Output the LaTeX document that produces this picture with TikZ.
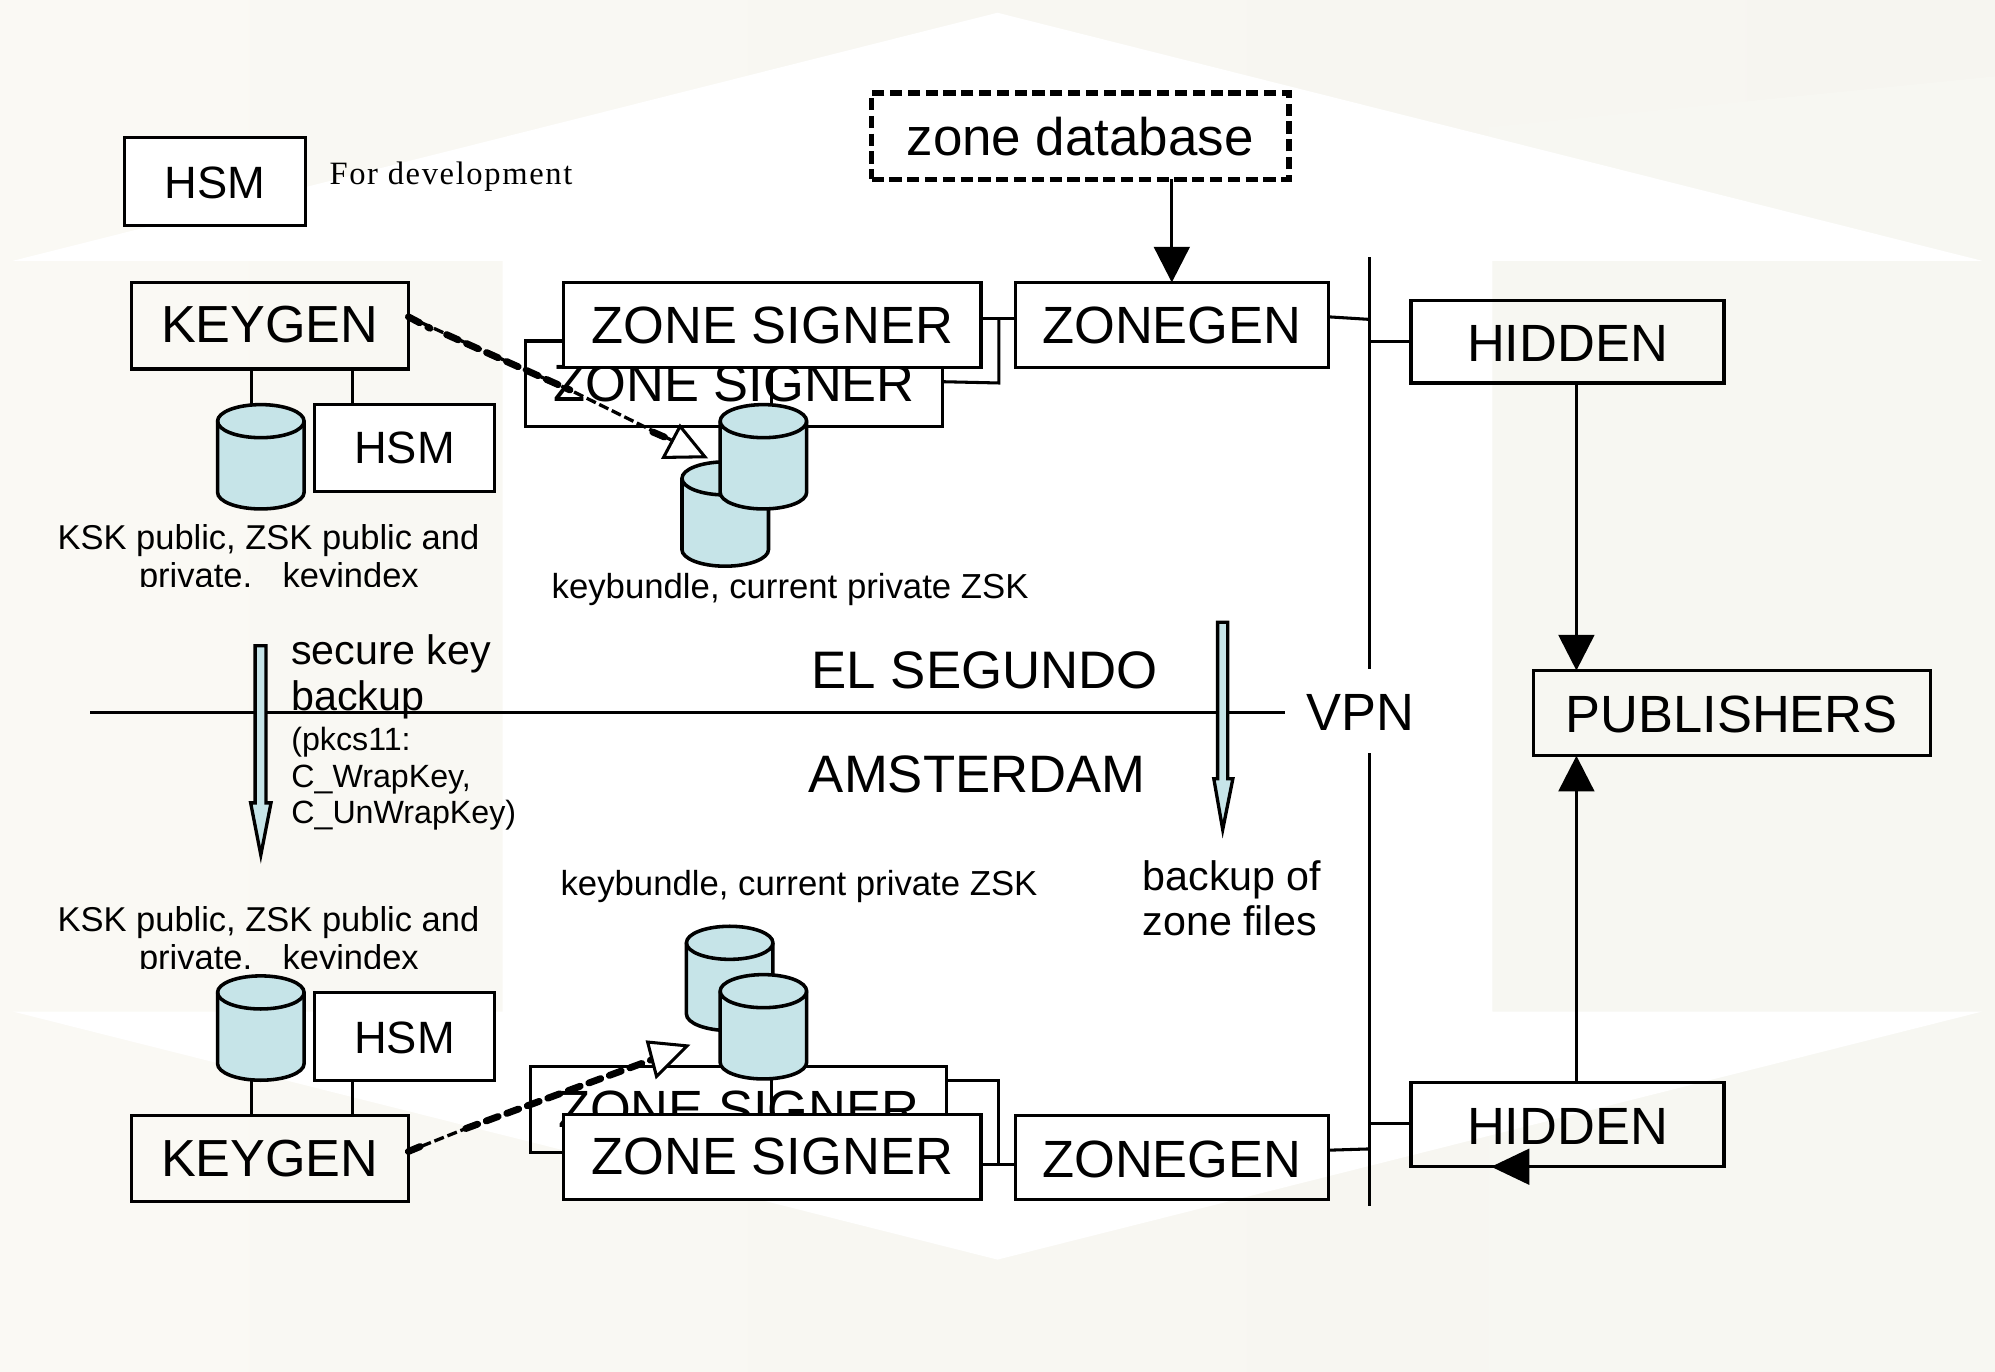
\documentclass[tikz,border=0pt]{standalone}
\usepackage{fontspec}
\setmainfont{Liberation Sans}
\newfontfamily\devfont[LetterSpace=5]{Liberation Serif}
\usetikzlibrary{arrows.meta}
\definecolor{bgtone}{HTML}{F8F8F3}
\definecolor{bgleft}{HTML}{FAF9F4}
\definecolor{bgright}{HTML}{F6F5F0}
\definecolor{cylblue}{HTML}{C6E4E8}
\newcommand{\nudge}[2]{\raisebox{#1}[\height][0pt]{#2}}
\tikzset{
  x=0.5pt,y=-0.5pt,
  lw/.style={line width=1.2pt},
  boxn/.style={draw=black,lw,rectangle,inner sep=0pt,outer sep=0pt,align=center},
  big/.style={font=\fontsize{20.6}{24}\selectfont},
  kgen/.style={font=\fontsize{20.5}{24}\selectfont},
  mid/.style={font=\fontsize{17.8}{20}\selectfont},
  lab/.style={inner sep=0pt,outer sep=0pt,align=center,font=\fontsize{13.65}{15}\selectfont},
  labtwo/.style={inner sep=0pt,outer sep=0pt,align=left,font=\fontsize{13.55}{15}\selectfont},
  labl/.style={inner sep=0pt,outer sep=0pt,align=left,anchor=west},
  cylline/.style={draw=black,line width=1.4pt,fill=cylblue},
  conn/.style={draw=black,lw},
  sol/.style={-{Triangle[length=14pt,width=14pt]},draw=black,lw},
  dashthin/.style={line width=1.3pt,dash pattern=on 4pt off 1.5pt},
  dashthick/.style={line width=2.7pt,line cap=round,dash pattern=on 5pt off 3.6pt},
  openhead/.style={draw=black,fill=white,line width=1.2pt,line join=miter},
  blockarrow/.style={draw=black,fill=cylblue,line width=1.3pt,line join=miter},
}
% a database drum: name, centre x, top y
\newcommand{\drumat}[3]{%
  \begin{scope}[shift={(#2,#3)}]
    \coordinate (#1-top) at (0,0);
    \coordinate (#1-bot) at (0,82);
    \path[cylline] (-34,13) arc[start angle=180,end angle=0,x radius=17pt,y radius=6.5pt]
      -- (34,69) arc[start angle=0,end angle=-180,x radius=17pt,y radius=6.5pt] -- cycle;
    \draw[draw=black,line width=1.4pt] (-34,13) arc[start angle=180,end angle=360,x radius=17pt,y radius=6.5pt];
  \end{scope}}
\begin{document}
\begin{tikzpicture}
\useasboundingbox (0,0) rectangle (1568,1078);
% background
\shade[left color=bgleft,right color=bgright] (0,0) rectangle (1568,1078);
\fill[bgtone!70!bgright] (1170,100) -- (1568,60) -- (1568,1078) -- (1170,1078) -- cycle;
\fill[white] (784,10) -- (1558,205) -- (1173,205) -- (1173,795) -- (1558,795) -- (784,990)
  -- (10,795) -- (395,795) -- (395,205) -- (10,205) -- cycle;

% top legend
\node[boxn,fill=white,mid,minimum width=71pt,minimum height=34.5pt] (hsmdev) at (169,142.5) {\nudge{-.4pt}{HSM}};
\node[labl,font=\devfont\fontsize{12.8}{15}\selectfont] (fordev) at (259,138.5) {For development};

% zone database
\node[boxn,line width=2.2pt,dash pattern=on 4.8pt off 2.2pt,fill=white,minimum width=164pt,minimum height=34pt,font=\fontsize{20.8}{24}\selectfont] (zonedb) at (849,107) {zone database};

% horizontal divider and VPN bus
\coordinate (divl) at (71,560);
\coordinate (divr) at (1010,560);
\draw[conn] (divl) -- (divr);
\node[inner sep=0pt,big] (vpn) at (1069,560) {VPN};
\coordinate (bustop) at (1076,202);
\coordinate (busa) at (1076,526);
\coordinate (busb) at (1076,592);
\coordinate (busbot) at (1076,948);
\draw[conn] (bustop) -- (busa);
\draw[conn] (busb) -- (busbot);

% upper row
\node[boxn,kgen,minimum width=109pt,minimum height=34pt] (keygenT) at (212,256) {\nudge{.4pt}{KEYGEN}};
\node[boxn,big,fill=white,minimum width=164pt,minimum height=33.5pt] (signerBT) at (577,301.5) {ZONE SIGNER};
\node[boxn,big,fill=white,minimum width=164pt,minimum height=33.5pt] (signerFT) at (607,255.5) {ZONE SIGNER};
\node[boxn,big,minimum width=123pt,minimum height=33.5pt] (zonegenT) at (921,255.5) {ZONEGEN};
\node[boxn,big,minimum width=123pt,minimum height=32.5pt] (hiddenT) at (1232,268.5) {\nudge{-.8pt}{HIDDEN}};
\node[boxn,mid,fill=white,minimum width=71pt,minimum height=34pt] (hsmT) at (318,352) {HSM};
\node[boxn,big,minimum width=156pt,minimum height=33.5pt] (publishers) at (1361,560.5) {\nudge{-.4pt}{PUBLISHERS}};

% lower row
\node[boxn,big,minimum width=123pt,minimum height=33pt] (hiddenB) at (1232,884) {\nudge{-.6pt}{HIDDEN}};
\node[boxn,big,minimum width=123pt,minimum height=33pt] (zonegenB) at (921,910) {\nudge{-.4pt}{ZONEGEN}};
\node[boxn,big,minimum width=163.5pt,minimum height=34pt] (signerBB) at (580.5,872) {ZONE SIGNER};
\node[boxn,big,fill=white,minimum width=164pt,minimum height=33.5pt] (signerFB) at (607,909.5) {\nudge{.4pt}{ZONE SIGNER}};
\node[boxn,kgen,minimum width=109pt,minimum height=33.5pt] (keygenB) at (212,910.5) {KEYGEN};
\node[boxn,mid,fill=white,minimum width=71pt,minimum height=34.5pt] (hsmB) at (318,814.5) {\nudge{-.4pt}{HSM}};

% drums
\drumat{cylKT}{205}{318}
\drumat{cylZTb}{570}{363}
\drumat{cylZTf}{600}{318}
\drumat{cylKB}{205}{767}
\drumat{cylZBb}{573.5}{728}
\drumat{cylZBf}{600}{766}

% connectors
\draw[conn] ([xshift=-7pt]keygenT.south) -- ([xshift=-7pt]keygenT.south |- cylKT-top);
\draw[conn] ([xshift=32.5pt]keygenT.south) -- ([xshift=32.5pt]keygenT.south |- hsmT.north);
\draw[conn] ([xshift=-0.5pt]signerFT.south) -- ([xshift=-0.5pt]signerFT.south |- cylZTf-top);
\draw[conn] ([xshift=-7pt]keygenB.north) -- ([xshift=-7pt]keygenB.north |- cylKB-bot);
\draw[conn] ([xshift=32.5pt]keygenB.north) -- ([xshift=32.5pt]keygenB.north |- hsmB.south);
\draw[conn] ([xshift=-0.5pt]signerFB.north) -- ([xshift=-0.5pt]signerFB.north |- cylZBf-bot);

\coordinate (jT) at (785,250);
\draw[conn] (signerFT.east |- jT) -- (zonegenT.west |- jT);
\draw[conn] (signerBT.east |- 0,300) -- (785,301) -- (jT);
\coordinate (jB) at (785,915);
\draw[conn] (signerFB.east |- jB) -- (zonegenB.west |- jB);
\draw[conn] (signerBB.east |- 0,849) -- (785,849) -- (jB);
\draw[conn] (zonegenT.east |- 0,249) -- (busa |- 0,251);
\draw[conn] (busa |- hiddenT.west) -- (hiddenT.west);
\draw[conn] (zonegenB.east |- 0,904) -- (busa |- 0,903);
\draw[conn] (busa |- 0,883) -- (hiddenB.west |- 0,883);

\draw[sol] (zonedb.south -| zonegenT.north) -- (zonegenT.north);
\coordinate (colp) at (1239,560);
\draw[sol] (hiddenT.south -| colp) -- (publishers.north -| colp);
\draw[sol] (hiddenB.north -| colp) -- (publishers.south -| colp);
\coordinate (hidtip) at (1172,917);
\draw[-{Triangle[length=15pt,width=14pt]},draw=black,lw] (hiddenB.south east) -- (hidtip);

% dashed key transfer arrows
\coordinate (dTs) at (321,249);
\coordinate (dTa) at (338,258);
\coordinate (dTb) at (351,263);
\coordinate (dTm) at (448,306.5);
\coordinate (dTc) at (513,339.5);
\coordinate (dTe) at (528,346);
\draw[dashthin] (dTs) -- (dTm) -- (dTe);
\draw[dashthick] (dTs) -- (dTa);
\draw[dashthick] (dTb) -- (dTm);
\draw[dashthick] (dTc) -- (dTe);
\draw[openhead] (534.5,335) -- (521.5,359.5) -- (554,359) -- cycle;
\coordinate (dBs) at (321,905);
\coordinate (dBa) at (333,900);
\coordinate (dBm) at (366,887);
\coordinate (dBe) at (512,833);
\draw[dashthin] (dBs) -- (dBm);
\draw[dashthick] (dBs) -- (dBa);
\draw[dashthick] (dBm) -- (dBe);
\draw[openhead] (509,819) -- (540,822) -- (516,846) -- cycle;

% block arrows
\draw[blockarrow] (200.5,507.5) -- (209,507.5) -- (209,631) -- (213,631) -- (205,672) -- (197,631) -- (200.5,631) -- cycle;
\draw[blockarrow] (957,489) -- (965,489) -- (965,612) -- (969,612) -- (961,652) -- (954,612) -- (957,612) -- cycle;

% labels
\begin{scope}
\clip (0,400) rectangle (420,461);
\node[labtwo] (kskT) at (211,440) {KSK public, ZSK public and\\\hspace*{32pt}private,\hspace{12pt}keyindex};
\end{scope}
\begin{scope}
\clip (0,700) rectangle (420,761);
\node[labtwo] (kskB) at (211,740) {KSK public, ZSK public and\\\hspace*{32pt}private,\hspace{12pt}keyindex};
\end{scope}
\node[lab] (bundT) at (621,463) {keybundle, current private ZSK};
\node[lab] (bundB) at (628,697) {keybundle, current private ZSK};
\node[labl,font=\fontsize{16.2}{18}\selectfont] (secure) at (229,532) {secure key\\backup};
\node[labl,font=\fontsize{12.65}{14.5}\selectfont] (pkcs) at (229,612) {(pkcs11:\\C\_WrapKey,\\C\_UnWrapKey)};
\node[labl,font=\fontsize{16.2}{18}\selectfont] (bkzone) at (898,706) {backup of\\zone files};
\node[inner sep=0pt,font=\fontsize{20.75}{24}\selectfont] (elseg) at (774,527) {EL SEGUNDO};
\node[inner sep=0pt,font=\fontsize{20.7}{24}\selectfont] (amst) at (768,609) {AMSTERDAM};
\end{tikzpicture}
\end{document}
